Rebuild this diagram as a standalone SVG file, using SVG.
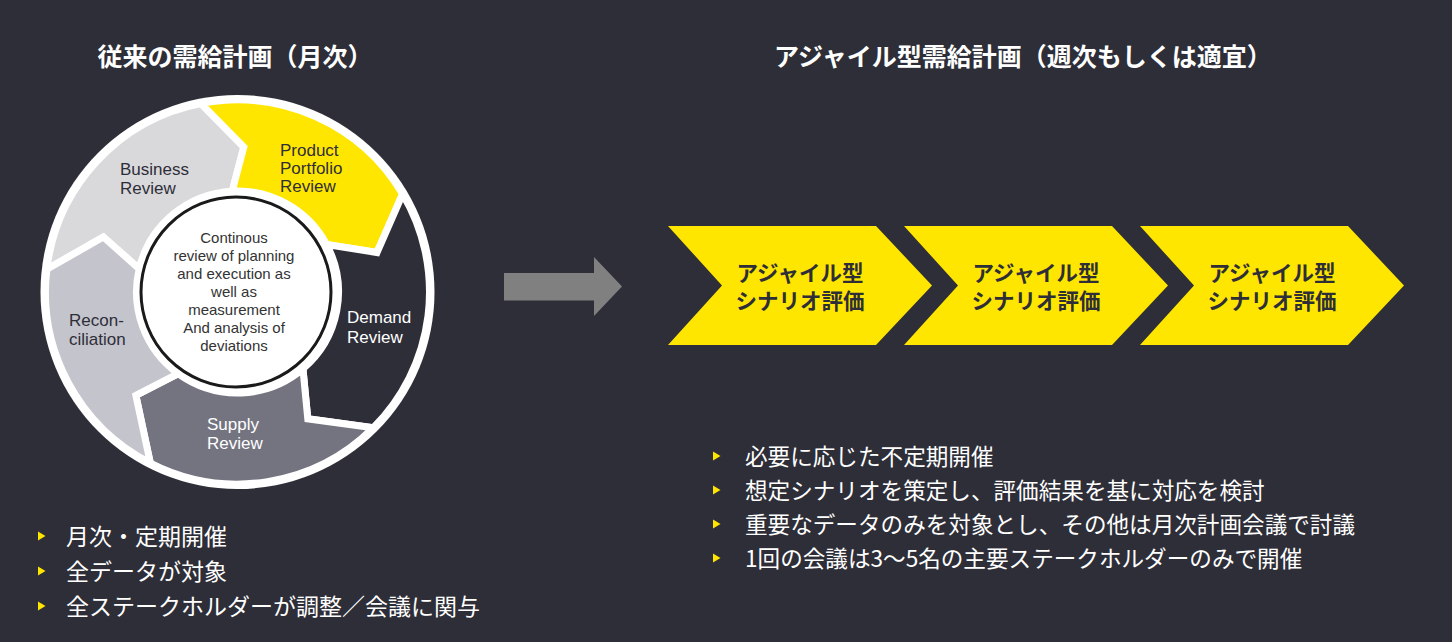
<svg xmlns="http://www.w3.org/2000/svg" xmlns:xlink="http://www.w3.org/1999/xlink" width="1452" height="642" viewBox="0 0 1452 642">
<style>
.lbl{font-family:"Liberation Sans","Noto Sans",sans-serif;font-size:17px}
.dk{fill:#2e2e38}
.wt{fill:#ffffff}
.ctr{font-family:"Liberation Sans","Noto Sans",sans-serif;font-size:15px;fill:#333333;text-anchor:middle}
.seg{stroke:#ffffff;stroke-width:7;stroke-linejoin:miter}
.jp{font-family:"Noto Sans CJK JP","Noto Sans CJK SC",sans-serif}
.title{font-size:25px;font-weight:bold;fill:#ffffff;text-anchor:middle}
.bul{font-size:23px;fill:#ffffff}
.bulr{font-size:22.6px;fill:#ffffff}
.chev{fill:#ffe600}
.chevt{font-size:21.5px;font-weight:bold;fill:#2e2e38;text-anchor:middle}
.tri{fill:#ffe600}
</style>
<defs>
<path id="tri" d="M0,-4.5 L7.5,0 L0,4.5 Z"/>
<path id="chevron" d="M0,0 L208,0 L264,59.5 L208,119 L0,119 L54,59.5 Z"/>
</defs>
<rect x="0" y="0" width="1452" height="642" fill="#2e2e38"/>

<text class="jp title" x="235" y="66">従来の需給計画（月次）</text>
<text class="jp title" x="1023" y="66">アジャイル型需給計画（週次もしくは適宜）</text>

<circle cx="237.5" cy="292" r="197" fill="#ffffff"/>

<g id="seg-business">
<path class="seg" fill="#d9d9dc" d="M46.85,269.27 A192,192 0 0,1 200.86,103.53 L243.82,147.14 L232.21,191.14 A101,101 0 0,0 139.21,268.76 L103.34,236.98 Z"/>
<text class="lbl dk" x="120" y="175">Business</text>
<text class="lbl dk" x="120" y="194">Review</text>
</g>
<g id="seg-product">
<path class="seg" fill="#ffe600" d="M200.86,103.53 A192,192 0 0,1 402.59,193.98 L377.02,252.52 L326.68,244.58 A101,101 0 0,0 232.21,191.14 L243.82,147.14 Z"/>
<text class="lbl dk" x="280" y="156">Product</text>
<text class="lbl dk" x="280" y="174">Portfolio</text>
<text class="lbl dk" x="280" y="192">Review</text>
</g>
<g id="seg-demand">
<path class="seg" fill="#2e2e38" d="M402.59,193.98 A192,192 0 0,1 373.26,427.76 L307.80,418.82 L302.96,368.92 A101,101 0 0,0 326.68,244.58 L377.02,252.52 Z"/>
<text class="lbl wt" x="347" y="323">Demand</text>
<text class="lbl wt" x="347" y="343">Review</text>
</g>
<g id="seg-supply">
<path class="seg" fill="#747480" d="M373.26,427.76 A192,192 0 0,1 150.33,463.07 L135.87,395.42 L178.13,373.71 A101,101 0 0,0 302.96,368.92 L307.80,418.82 Z"/>
<text class="lbl wt" x="207" y="430">Supply</text>
<text class="lbl wt" x="207" y="449">Review</text>
</g>
<g id="seg-reconciliation">
<path class="seg" fill="#c4c4cd" d="M150.33,463.07 A192,192 0 0,1 46.85,269.27 L103.34,236.98 L139.21,268.76 A101,101 0 0,0 178.13,373.71 L135.87,395.42 Z"/>
<text class="lbl dk" x="69" y="326">Recon-</text>
<text class="lbl dk" x="69" y="345">ciliation</text>
</g>
<g id="center">
<circle cx="236" cy="292" r="95" fill="#ffffff" stroke="#1a1a1a" stroke-width="3"/>
<text class="ctr" x="234" y="243">Continous</text>
<text class="ctr" x="234" y="261">review of planning</text>
<text class="ctr" x="234" y="279">and execution as</text>
<text class="ctr" x="234" y="297">well as</text>
<text class="ctr" x="234" y="315">measurement</text>
<text class="ctr" x="234" y="333">And analysis of</text>
<text class="ctr" x="234" y="351">deviations</text>
</g>

<g id="connectors">
<path d="M504,273 L594,273 L594,257 L622,286.5 L594,316 L594,300.5 L504,300.5 Z" fill="#808080"/>
</g>

<g id="chevron-1">
<use xlink:href="#chevron" href="#chevron" class="chev" x="668" y="226"/>
<text class="jp chevt" x="800" y="281"><tspan x="800" y="281">アジャイル型</tspan><tspan x="800" y="309">シナリオ評価</tspan></text>
</g>
<g id="chevron-2">
<use xlink:href="#chevron" href="#chevron" class="chev" x="904" y="226"/>
<text class="jp chevt" x="1036" y="281"><tspan x="1036" y="281">アジャイル型</tspan><tspan x="1036" y="309">シナリオ評価</tspan></text>
</g>
<g id="chevron-3">
<use xlink:href="#chevron" href="#chevron" class="chev" x="1140" y="226"/>
<text class="jp chevt" x="1272" y="281"><tspan x="1272" y="281">アジャイル型</tspan><tspan x="1272" y="309">シナリオ評価</tspan></text>
</g>

<g id="bullets-left">
<use xlink:href="#tri" href="#tri" class="tri" x="38" y="536"/>
<use xlink:href="#tri" href="#tri" class="tri" x="38" y="571"/>
<use xlink:href="#tri" href="#tri" class="tri" x="38" y="606"/>
<text class="jp bul" x="66" y="545">月次・定期開催</text>
<text class="jp bul" x="66" y="580">全データが対象</text>
<text class="jp bul" x="66" y="615">全ステークホルダーが調整／会議に関与</text>
</g>

<g id="bullets-right">
<use xlink:href="#tri" href="#tri" class="tri" x="713" y="456"/>
<use xlink:href="#tri" href="#tri" class="tri" x="713" y="490"/>
<use xlink:href="#tri" href="#tri" class="tri" x="713" y="524"/>
<use xlink:href="#tri" href="#tri" class="tri" x="713" y="558"/>
<text class="jp bulr" x="745" y="465">必要に応じた不定期開催</text>
<text class="jp bulr" x="745" y="499">想定シナリオを策定し、評価結果を基に対応を検討</text>
<text class="jp bulr" x="745" y="533">重要なデータのみを対象とし、その他は月次計画会議で討議</text>
<text class="jp bulr" x="745" y="567">1回の会議は3～5名の主要ステークホルダーのみで開催</text>
</g>
</svg>
